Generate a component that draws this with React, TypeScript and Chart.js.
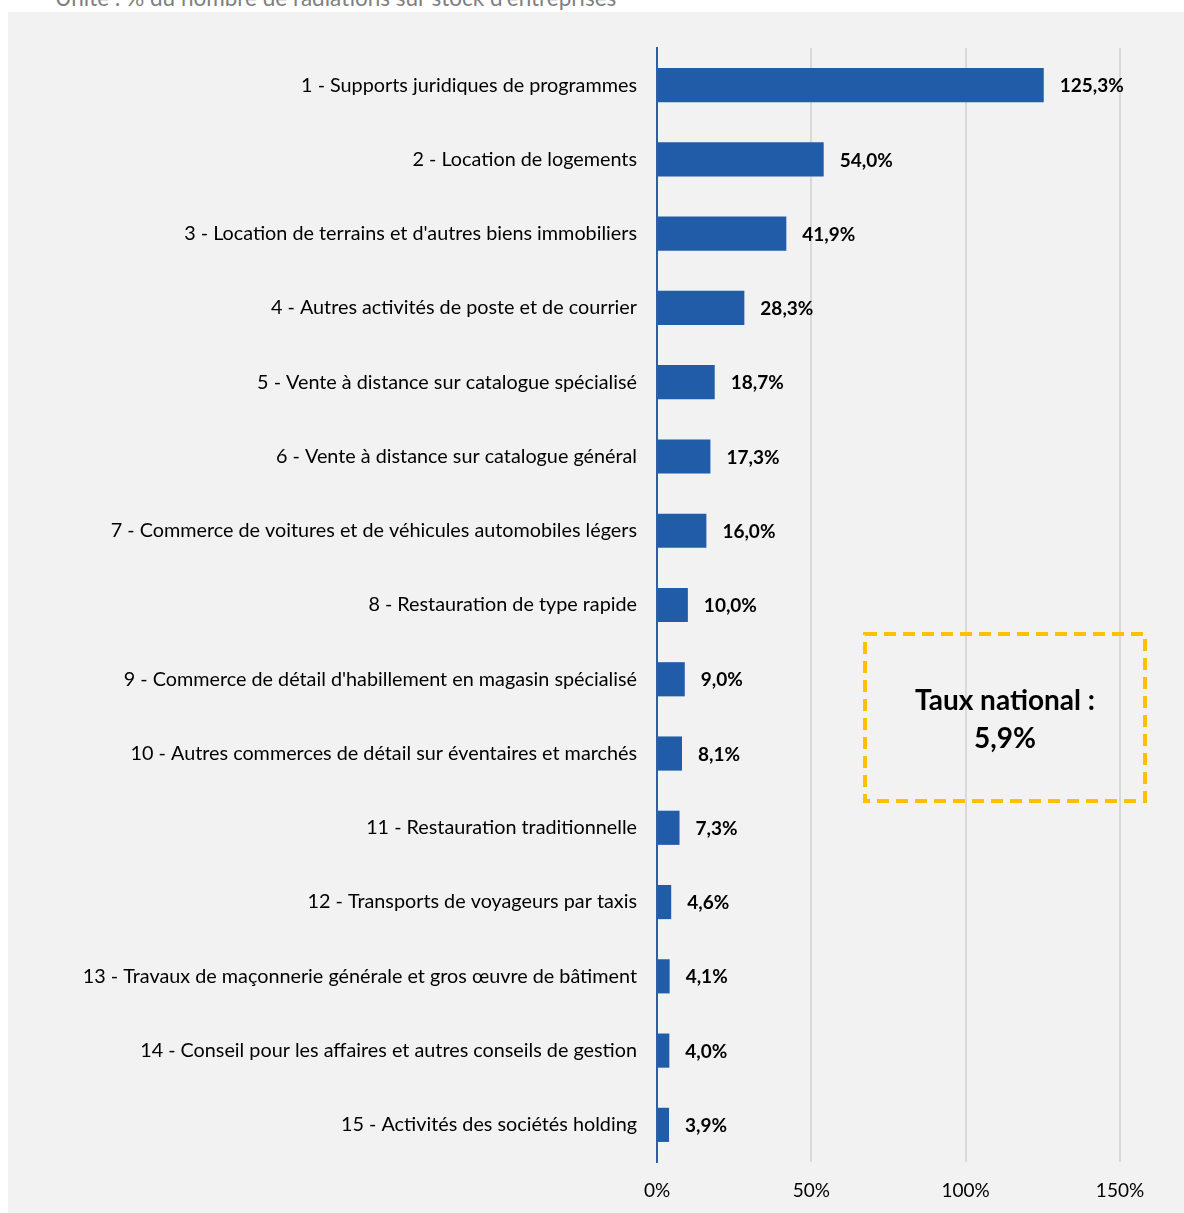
import React, { useEffect, useRef } from "react";
import { Chart, registerables } from "chart.js";

Chart.register(...registerables);

const categories: string[] = [
  "1 - Supports juridiques de programmes",
  "2 - Location de logements",
  "3 - Location de terrains et d'autres biens immobiliers",
  "4 - Autres activités de poste et de courrier",
  "5 - Vente à distance sur catalogue spécialisé",
  "6 - Vente à distance sur catalogue général",
  "7 - Commerce de voitures et de véhicules automobiles légers",
  "8 - Restauration de type rapide",
  "9 - Commerce de détail d'habillement en magasin spécialisé",
  "10 - Autres commerces de détail sur éventaires et marchés",
  "11 - Restauration traditionnelle",
  "12 - Transports de voyageurs par taxis",
  "13 - Travaux de maçonnerie générale et gros œuvre de bâtiment",
  "14 - Conseil pour les affaires et autres conseils de gestion",
  "15 - Activités des sociétés holding",
];

const values: number[] = [125.3, 54.0, 41.9, 28.3, 18.7, 17.3, 16.0, 10.0, 9.0, 8.1, 7.3, 4.6, 4.1, 4.0, 3.9];

const axisTicks: number[] = [0, 50, 100, 150];

const subtitle = "Unité : % du nombre de radiations sur stock d'entreprises";
const nationalLines: string[] = ["Taux national :", "5,9%"];

const FONT = "Lato, 'Open Sans', sans-serif";
const BAR_COLOR = "#215ca9";

const fmt = (v: number) => v.toFixed(1).replace(".", ",") + "%";

const valueLabelPlugin = {
  id: "valueLabels",
  afterDatasetsDraw(chart: any) {
    const ctx = chart.ctx;
    const meta = chart.getDatasetMeta(0);
    ctx.save();
    ctx.font = `bold 19px ${FONT}`;
    ctx.fillStyle = "#000";
    ctx.textAlign = "left";
    ctx.textBaseline = "middle";
    meta.data.forEach((bar: any, i: number) => {
      ctx.fillText(fmt(values[i]), bar.x + 16, bar.y + 1);
    });
    ctx.restore();
  },
};

const nationalBoxPlugin = {
  id: "nationalBox",
  afterDraw(chart: any) {
    const ctx = chart.ctx;
    const x0 = 857;
    const y0 = 622;
    const w = 280;
    const h = 167;
    ctx.save();
    ctx.strokeStyle = "#ffc000";
    ctx.lineWidth = 4;
    ctx.setLineDash([12, 7]);
    ctx.strokeRect(x0, y0, w, h);
    ctx.setLineDash([]);
    ctx.fillStyle = "#000";
    ctx.font = `bold 28px ${FONT}`;
    ctx.textAlign = "center";
    ctx.textBaseline = "middle";
    ctx.fillText(nationalLines[0], x0 + w / 2, y0 + 67);
    ctx.fillText(nationalLines[1], x0 + w / 2, y0 + 105);
    ctx.restore();
  },
};

export default function App() {
  const canvasRef = useRef<HTMLCanvasElement | null>(null);

  useEffect(() => {
    if (!canvasRef.current) return;
    const chart = new Chart(canvasRef.current, {
      type: "bar",
      data: {
        labels: categories,
        datasets: [
          {
            data: values,
            backgroundColor: BAR_COLOR,
            borderWidth: 0,
            categoryPercentage: 1,
            barPercentage: 0.46,
          },
        ],
      },
      options: {
        indexAxis: "y",
        animation: false,
        responsive: false,
        maintainAspectRatio: false,
        layout: { padding: { top: 36, right: 64, bottom: 0, left: 0 } },
        plugins: {
          legend: { display: false },
          tooltip: { enabled: false },
          title: { display: false },
        },
        scales: {
          x: {
            min: 0,
            max: 150,
            afterBuildTicks: (scale: any) => {
              scale.ticks = axisTicks.map((v) => ({ value: v }));
            },
            afterFit: (scale: any) => {
              scale.height = 51;
            },
            ticks: {
              padding: 17,
              color: "#000",
              font: { family: FONT, size: 19 },
              callback: (v: any) => `${v}%`,
              maxRotation: 0,
            },
            grid: {
              color: (c: any) => (c.tick && c.tick.value === 0 ? "rgba(0,0,0,0)" : "#d9d9d9"),
              lineWidth: 2,
              drawTicks: false,
            },
            border: { display: false },
          },
          y: {
            afterFit: (scale: any) => {
              scale.width = 649;
            },
            ticks: {
              padding: 20,
              color: "#000",
              font: { family: FONT, size: 19.8 },
              autoSkip: false,
            },
            grid: { display: false, drawTicks: false },
            border: { display: true, color: "#2e5fa6", width: 2 },
          },
        },
      },
      plugins: [valueLabelPlugin, nationalBoxPlugin],
    } as any);
    return () => chart.destroy();
  }, []);

  return (
    <div
      style={{
        position: "absolute",
        left: 0,
        top: 0,
        width: 1184,
        height: 1213,
        overflow: "hidden",
        background: "#fff",
      }}
    >
      <div
        style={{
          position: "absolute",
          left: 55,
          top: -15,
          fontFamily: FONT,
          fontSize: 22.5,
          lineHeight: "26px",
          color: "#7f7f7f",
          whiteSpace: "nowrap",
        }}
      >
        {subtitle}
      </div>
      <div
        style={{
          position: "absolute",
          left: 8,
          top: 12,
          width: 1176,
          height: 1201,
          background: "#f2f2f2",
        }}
      >
        <canvas ref={canvasRef} width={1176} height={1201} style={{ display: "block" }} />
      </div>
    </div>
  );
}
